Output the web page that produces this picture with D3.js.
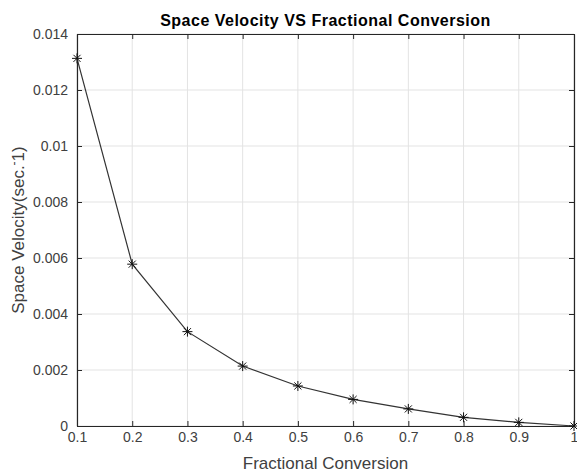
<!DOCTYPE html>
<html>
<head>
<meta charset="utf-8">
<script src="https://cdn.jsdelivr.net/npm/d3@7"></script>
<style>
  body { margin: 0; background: #fff; }
  svg { font-family: "Liberation Sans", Arial, sans-serif; }
</style>
</head>
<body>
<div id="chart"></div>
<script>
const conversion = [0.1, 0.2, 0.3, 0.4, 0.5, 0.6, 0.7, 0.8, 0.9, 1.0];
const spaceVelocity = [0.01313, 0.00578, 0.00337, 0.00214, 0.00143, 0.00095, 0.00061, 0.00031, 0.00013, 0];
const xTicks = [0.1, 0.2, 0.3, 0.4, 0.5, 0.6, 0.7, 0.8, 0.9, 1];
const yTicks = [0, 0.002, 0.004, 0.006, 0.008, 0.01, 0.012, 0.014];

const width = 577, height = 472;
const margin = { top: 34, right: 3, bottom: 46, left: 77 };
const innerW = width - margin.left - margin.right;
const innerH = height - margin.top - margin.bottom;

const svg = d3.select("#chart").append("svg")
  .attr("width", width)
  .attr("height", height);

const g = svg.append("g")
  .attr("transform", `translate(${margin.left},${margin.top})`);

const x = d3.scaleLinear().domain([0.1, 1]).range([0, innerW]);
const y = d3.scaleLinear().domain([0, 0.014]).range([innerH, 0]);

const fmt = d => d3.format("~g")(d);

// grid
g.append("g").selectAll("line").data(xTicks).join("line")
  .attr("x1", d => x(d)).attr("x2", d => x(d))
  .attr("y1", 0).attr("y2", innerH)
  .attr("stroke", "#e3e3e3").attr("stroke-width", 1);
g.append("g").selectAll("line").data(yTicks).join("line")
  .attr("x1", 0).attr("x2", innerW)
  .attr("y1", d => y(d)).attr("y2", d => y(d))
  .attr("stroke", "#e3e3e3").attr("stroke-width", 1);

// axes, ticks pointing inward
const axisColor = "#262626";
const xAxis = g.append("g").attr("transform", `translate(0,${innerH})`)
  .call(d3.axisBottom(x).tickValues(xTicks).tickFormat(fmt).tickSizeInner(-5).tickSizeOuter(0).tickPadding(6));
const xTop = g.append("g")
  .call(d3.axisTop(x).tickValues(xTicks).tickFormat("").tickSizeInner(-5).tickSizeOuter(0));
const yAxis = g.append("g")
  .call(d3.axisLeft(y).tickValues(yTicks).tickFormat(fmt).tickSizeInner(-5).tickSizeOuter(0).tickPadding(9));
const yRight = g.append("g").attr("transform", `translate(${innerW},0)`)
  .call(d3.axisRight(y).tickValues(yTicks).tickFormat("").tickSizeInner(-5).tickSizeOuter(0));

[xAxis, xTop, yAxis, yRight].forEach(a => {
  a.select(".domain").attr("stroke", axisColor).attr("stroke-width", 1.2);
  a.selectAll(".tick line").attr("stroke", axisColor);
  a.selectAll(".tick text").attr("fill", "#404040").attr("font-size", 14);
});

// line
g.append("path")
  .datum(conversion.map((c, i) => [c, spaceVelocity[i]]))
  .attr("fill", "none")
  .attr("stroke", "#333")
  .attr("stroke-width", 1.2)
  .attr("d", d3.line().x(d => x(d[0])).y(d => y(d[1])));

// asterisk markers (+ and x combined)
const star = {
  draw(ctx, size) {
    const r = Math.sqrt(size) / 2;
    const d = r * Math.SQRT1_2;
    ctx.moveTo(-r, 0); ctx.lineTo(r, 0);
    ctx.moveTo(0, -r); ctx.lineTo(0, r);
    ctx.moveTo(-d, -d); ctx.lineTo(d, d);
    ctx.moveTo(-d, d); ctx.lineTo(d, -d);
  }
};
g.append("g").selectAll("path").data(conversion).join("path")
  .attr("transform", (d, i) => `translate(${x(d)},${y(spaceVelocity[i])})`)
  .attr("d", d3.symbol(star, 100))
  .attr("fill", "none")
  .attr("stroke", "#111")
  .attr("stroke-width", 1);

// title and labels
svg.append("text")
  .attr("x", margin.left + innerW / 2).attr("y", 26)
  .attr("text-anchor", "middle")
  .attr("font-size", 16).attr("font-weight", "bold").attr("fill", "#000")
  .attr("letter-spacing", 0.5)
  .text("Space Velocity VS Fractional Conversion");

svg.append("text")
  .attr("x", margin.left + innerW / 2).attr("y", 469)
  .attr("text-anchor", "middle")
  .attr("font-size", 17).attr("fill", "#404040")
  .text("Fractional Conversion");

const yl = svg.append("text")
  .attr("transform", `translate(24,${margin.top + innerH / 2}) rotate(-90)`)
  .attr("text-anchor", "middle")
  .attr("font-size", 17).attr("fill", "#404040");
yl.append("tspan").text("Space Velocity(sec.");
yl.append("tspan").attr("dy", -6).attr("font-size", 12).text("-");
yl.append("tspan").attr("dy", 6).text("1)");
</script>
</body>
</html>
